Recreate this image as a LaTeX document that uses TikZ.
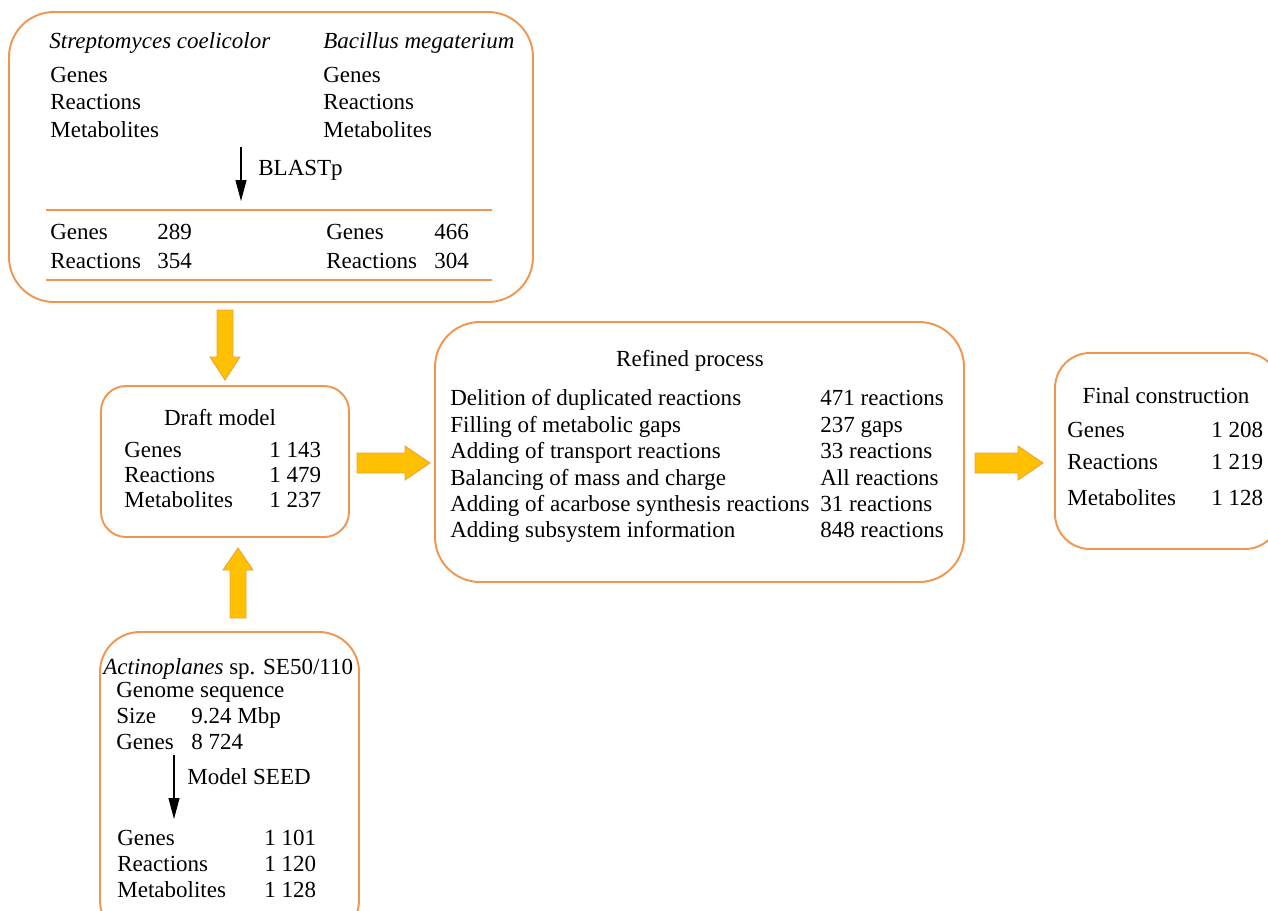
\documentclass[tikz,border=0pt]{standalone}
\usepackage{fontspec}
\setmainfont{Liberation Serif}
\usetikzlibrary{arrows.meta}
\definecolor{boxorange}{RGB}{240,150,80}
\definecolor{arrowfill}{RGB}{255,192,0}
\definecolor{arrowedge}{RGB}{240,160,60}
\tikzset{
  panel/.style={draw=boxorange, line width=1.1pt, rounded corners=#1},
  rule/.style={draw=boxorange, line width=1.1pt},
  blockarrow/.style={fill=arrowfill, draw=arrowedge, line width=0.5pt, line join=miter},
  thinarrow/.style={draw=black, line width=0.6pt, -{Triangle[width=0.22cm,length=0.42cm]}},
  txt/.style={anchor=base west, inner sep=0pt, font=\fontsize{13.1}{15}\selectfont},
  ctxt/.style={anchor=base, inner sep=0pt, font=\fontsize{13.1}{15}\selectfont},
}
\begin{document}
\begin{tikzpicture}[x=0.02cm, y=-0.02cm]
\useasboundingbox (0,0) rectangle (1268,910);
% ---- boxes
\draw[panel=0.9cm] (9,12) rectangle (533,302);
\draw[panel=0.5cm] (101,386) rectangle (349,537);
\draw[panel=0.9cm] (435,322) rectangle (964,582);
\draw[panel=0.7cm] (1055,353) rectangle (1280,549);
\draw[panel=0.8cm] (100,632) rectangle (359,940);
% ---- top box content
\node[txt] (sc) at (49,48) {\itshape Streptomyces coelicolor};
\node[txt] (bm) at (323,48) {\itshape Bacillus megaterium};
\node[txt] (g1) at (50,82) {Genes};
\node[txt] (r1) at (50,109) {Reactions};
\node[txt] (m1) at (50,137) {Metabolites};
\node[txt] (g2) at (323,82) {Genes};
\node[txt] (r2) at (323,109) {Reactions};
\node[txt] (m2) at (323,137) {Metabolites};
\coordinate (bstart) at (241,147);
\coordinate (bend) at (241,201);
\draw[thinarrow] (bstart) -- (bend);
\node[txt] (blast) at (258,175) {BLASTp};
\draw[rule] (46,210) -- (492,210);
\draw[rule] (46,280) -- (492,280);
\node[txt] (g3) at (50,239) {Genes};
\node[txt] at (157,239) {289};
\node[txt] (r3) at (50,268) {Reactions};
\node[txt] at (157,268) {354};
\node[txt] (g4) at (326,239) {Genes};
\node[txt] at (434,239) {466};
\node[txt] (r4) at (326,268) {Reactions};
\node[txt] at (434,268) {304};
% ---- draft model
\node[ctxt] (draft) at (220,425) {Draft model};
\node[txt] at (124,457) {Genes};
\node[txt] at (269,457) {1 143};
\node[txt] at (124,482) {Reactions};
\node[txt] at (269,482) {1 479};
\node[txt] at (124,507) {Metabolites};
\node[txt] at (269,507) {1 237};
% ---- refined process
\node[ctxt] (refined) at (690,366) {Refined process};
\node[txt] at (450,405) {Delition of duplicated reactions};
\node[txt] at (820,405) {471 reactions};
\node[txt] at (450,432) {Filling of metabolic gaps};
\node[txt] at (820,432) {237 gaps};
\node[txt] at (450,458) {Adding of transport reactions};
\node[txt] at (820,458) {33 reactions};
\node[txt] at (450,485) {Balancing of mass and charge};
\node[txt] at (820,485) {All reactions};
\node[txt] at (450,511) {Adding of acarbose synthesis reactions};
\node[txt] at (820,511) {31 reactions};
\node[txt] at (450,537) {Adding subsystem information};
\node[txt] at (820,537) {848 reactions};
% ---- final construction
\node[ctxt] (final) at (1166,403) {Final construction};
\node[txt] at (1067,437) {Genes};
\node[txt] at (1211,437) {1 208};
\node[txt] at (1067,469) {Reactions};
\node[txt] at (1211,469) {1 219};
\node[txt] at (1067,505) {Metabolites};
\node[txt] at (1211,505) {1 128};
% ---- bottom box
\node[txt] (act) at (103,674) {\textit{Actinoplanes} sp. SE50/110};
\node[txt] at (116,697) {Genome sequence};
\node[txt] at (116,723) {Size};
\node[txt] at (191,723) {9.24 Mbp};
\node[txt] at (116,749) {Genes};
\node[txt] at (191,749) {8 724};
\coordinate (sstart) at (174,755);
\coordinate (send) at (174,819);
\draw[thinarrow] (sstart) -- (send);
\node[txt] (seed) at (187,784) {Model SEED};
\node[txt] at (117,845) {Genes};
\node[txt] at (264,845) {1 101};
\node[txt] at (117,871) {Reactions};
\node[txt] at (264,871) {1 120};
\node[txt] at (117,897) {Metabolites};
\node[txt] at (264,897) {1 128};
% ---- block arrows
\draw[blockarrow] (217,310) -- (233,310) -- (233,357) -- (240,357) -- (225,380) -- (210,357) -- (217,357) -- cycle;
\draw[blockarrow] (230,618) -- (246,618) -- (246,570) -- (253,570) -- (238,548) -- (223,570) -- (230,570) -- cycle;
\draw[blockarrow] (357,453) -- (405,453) -- (405,446) -- (430,463) -- (405,480) -- (405,473) -- (357,473) -- cycle;
\draw[blockarrow] (975,453) -- (1018,453) -- (1018,446) -- (1043,463) -- (1018,480) -- (1018,473) -- (975,473) -- cycle;
\end{tikzpicture}
\end{document}
